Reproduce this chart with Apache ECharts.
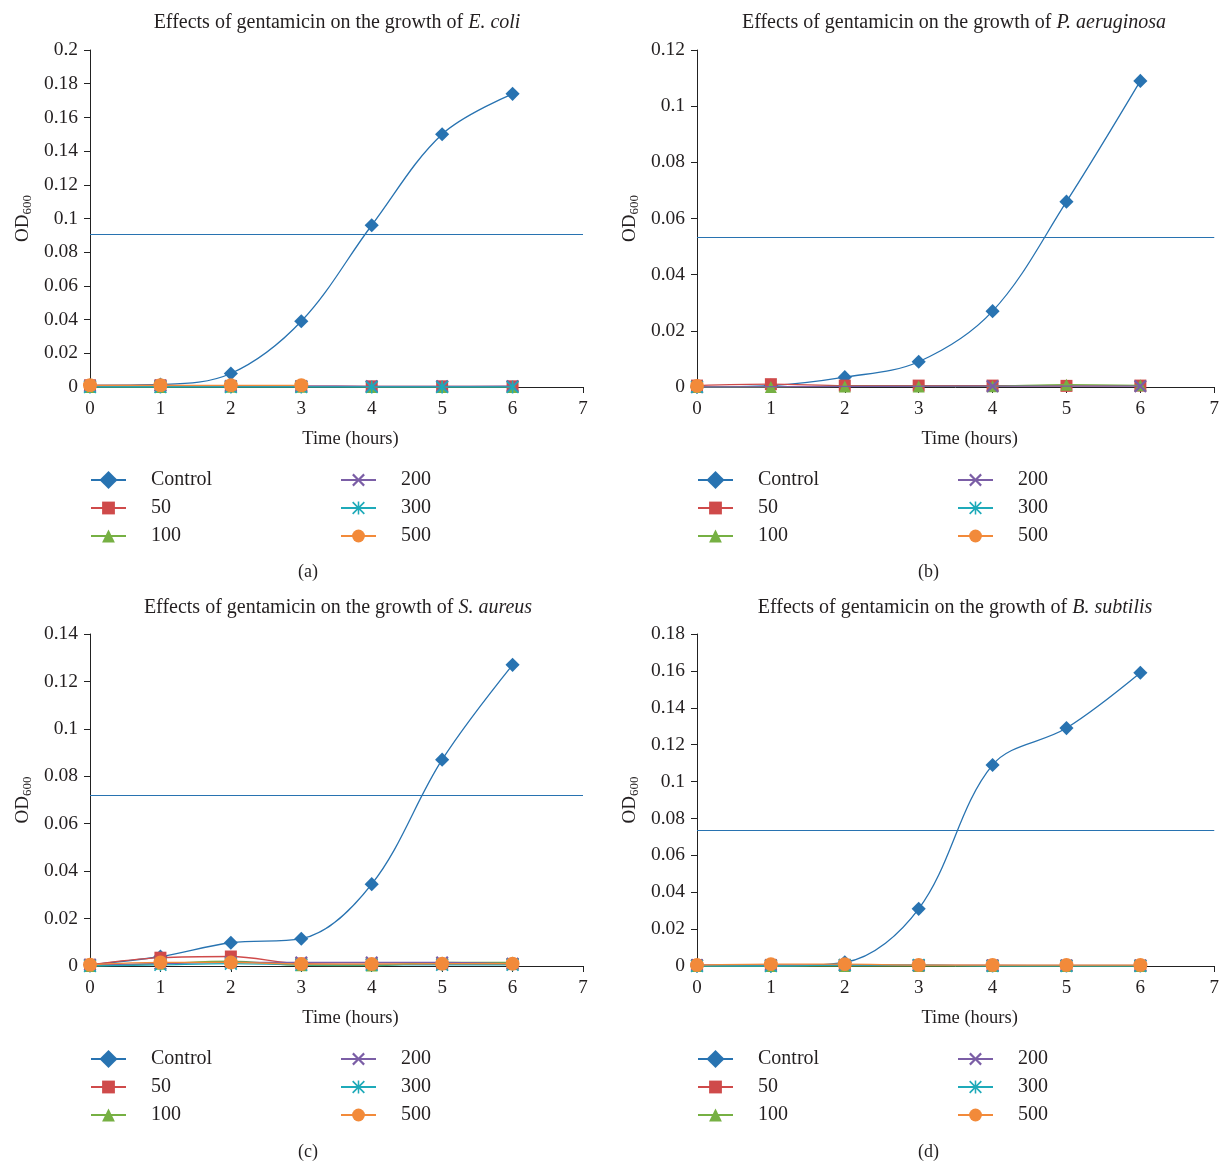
<!DOCTYPE html>
<html><head><meta charset="utf-8">
<script src="https://cdn.jsdelivr.net/npm/echarts@6/dist/echarts.min.js"></script>
<style>html,body{margin:0;padding:0;background:#fff}#c{width:1222px;height:1163px}</style>
</head><body><div id="c"></div>
<script>
// ---- data ----
const hours = [0, 1, 2, 3, 4, 5, 6];
const seriesNames = ['Control', '50', '100', '200', '300', '500'];
const xTicks = [0, 1, 2, 3, 4, 5, 6, 7];

// (a) E. coli
const ecoliControl = [0.001, 0.0015, 0.008, 0.039, 0.096, 0.150, 0.174];
const ecoli50  = [0.001, 0.001, 0.0006, 0.0005, 0.0004, 0.0004, 0.0004];
const ecoli100 = [0.0, 0.0, 0.0001, 0.0001, 0.0, 0.0, 0.0];
const ecoli200 = [0.0006, 0.0008, 0.0006, 0.0005, 0.0004, 0.0004, 0.0005];
const ecoli300 = [0.0, 0.0, 0.0, 0.0, 0.0, 0.0, 0.0];
const ecoli500 = [0.001, 0.001, 0.001, 0.001, null, null, null];
const ecoliThreshold = 0.0905;

// (b) P. aeruginosa
const paerControl = [0.0, 0.0005, 0.0035, 0.009, 0.027, 0.066, 0.109];
const paer50  = [0.0005, 0.001, 0.0005, 0.0005, 0.0005, 0.0004, 0.0005];
const paer100 = [0.0, 0.0, 0.0002, 0.0002, 0.0003, 0.0008, 0.0006];
const paer200 = [0.0, null, null, null, 0.0003, null, 0.0003];
const paer300 = [0.0, null, null, null, null, null, null];
const paer500 = [0.0004, null, null, null, null, null, null];
const paerThreshold = 0.0535;

// (c) S. aureus
const saurControl = [0.0005, 0.004, 0.0098, 0.0115, 0.0345, 0.087, 0.127];
const saur50  = [0.0005, 0.0035, 0.004, 0.001, 0.0008, 0.0008, 0.0008];
const saur100 = [0.0, 0.001, 0.002, 0.0003, 0.0002, 0.0015, 0.0015];
const saur200 = [0.0005, 0.001, 0.0015, 0.0015, 0.0015, 0.0015, 0.001];
const saur300 = [0.0, 0.0005, 0.001, 0.0005, 0.0005, 0.0005, 0.0005];
const saur500 = [0.0005, 0.0015, 0.0015, 0.0008, 0.0008, 0.001, 0.001];
const saurThreshold = 0.0718;

// (d) B. subtilis
const bsubControl = [0.0, 0.0, 0.002, 0.031, 0.109, 0.129, 0.159];
const bsub50  = [0.0005, 0.0005, 0.0005, 0.0003, 0.0003, 0.0002, 0.0002];
const bsub100 = [0.0, 0.0, 0.0, 0.0, 0.0, 0.0, 0.0];
const bsub200 = [0.0005, 0.0005, 0.0005, 0.0004, 0.0003, 0.0003, 0.0003];
const bsub300 = [0.0, 0.0, 0.0005, 0.0005, 0.0, 0.0, 0.0];
const bsub500 = [0.0005, 0.001, 0.001, 0.0005, 0.0005, 0.0005, 0.0005];
const bsubThreshold = 0.0738;

const species = ['E. coli', 'P. aeruginosa', 'S. aureus', 'B. subtilis'];
const captions = ['(a)', '(b)', '(c)', '(d)'];
const yMax = [0.2, 0.12, 0.14, 0.18];

// ---- styling ----
const FONT = '"Liberation Serif", "DejaVu Serif", serif';
const TXT = '#231f20';
const colors = ['#2873b1', '#cf4a4a', '#76b043', '#7b5ea6', '#1eaab9', '#f28a3a'];
const xPath = 'path://M0,1.2L1.2,0L5,3.8L8.8,0L10,1.2L6.2,5L10,8.8L8.8,10L5,6.2L1.2,10L0,8.8L3.8,5Z';
const starPath = 'path://M4.4,0H5.6V10H4.4Z M0,0.9L0.9,0L10,9.1L9.1,10Z M9.1,0L10,0.9L0.9,10L0,9.1Z';
const symbols = ['rect', 'rect', 'triangle', xPath, starPath, 'circle'];
const symRot = [45, 0, 0, 0, 0, 0];
const symSize = [10, 12, 12, 13, 13, 14];

const panels = [
  {vals: [ecoliControl, ecoli50, ecoli100, ecoli200, ecoli300, ecoli500], thr: ecoliThreshold},
  {vals: [paerControl, paer50, paer100, paer200, paer300, paer500], thr: paerThreshold},
  {vals: [saurControl, saur50, saur100, saur200, saur300, saur500], thr: saurThreshold},
  {vals: [bsubControl, bsub50, bsub100, bsub200, bsub300, bsub500], thr: bsubThreshold}
];

const layout = [
  {left: 90, top: 50, width: 493, height: 337, titleX: 332, titleY: 8, legY: 465, capX: 298, capY: 563, legL: 85, legR: 335},
  {left: 697, top: 50, width: 518, height: 337, titleX: 949, titleY: 8, legY: 465, capX: 918, capY: 563, legL: 692, legR: 952},
  {left: 90, top: 634, width: 493, height: 332, titleX: 333, titleY: 593, legY: 1044, capX: 298, capY: 1143, legL: 85, legR: 335},
  {left: 697, top: 634, width: 518, height: 332, titleX: 950, titleY: 593, legY: 1044, capX: 918, capY: 1143, legL: 692, legR: 952}
];

const grid = [], xAxis = [], yAxis = [], series = [], title = [], legend = [], graphic = [];

layout.forEach((L, p) => {
  grid.push({left: L.left, top: L.top, width: L.width, height: L.height, containLabel: false});
  xAxis.push({
    type: 'value', gridIndex: p, min: xTicks[0], max: xTicks[xTicks.length - 1], interval: 1,
    name: 'Time (hours)', nameLocation: 'middle', nameGap: 43,
    nameTextStyle: {fontFamily: FONT, fontSize: 18.5, color: TXT, padding: [0, 0, 0, 28]},
    axisLine: {onZero: false, lineStyle: {color: '#222', width: 1}},
    axisTick: {show: true, inside: false, length: 6, lineStyle: {color: '#222'}},
    axisLabel: {fontFamily: FONT, fontSize: 19, color: TXT, margin: 13},
    splitLine: {show: false}
  });
  yAxis.push({
    type: 'value', gridIndex: p, min: 0, max: yMax[p], interval: 0.02,
    name: 'OD{sub|600}', nameLocation: 'middle', nameGap: 56, nameRotate: 90,
    nameTextStyle: {fontFamily: FONT, fontSize: 19, color: TXT,
      rich: {sub: {fontFamily: FONT, fontSize: 13, color: TXT, verticalAlign: 'bottom', padding: [8, 0, 0, 0]}}},
    axisLine: {show: true, lineStyle: {color: '#222', width: 1}},
    axisTick: {show: true, inside: false, length: 6, lineStyle: {color: '#222'}},
    axisLabel: {fontFamily: FONT, fontSize: 19.5, color: TXT, margin: 12,
      formatter: v => String(Math.round(v * 1000) / 1000)},
    splitLine: {show: false}
  });
  title.push({
    text: 'Effects of gentamicin on the growth of {i|' + species[p] + '}',
    left: L.titleX, top: L.titleY, textAlign: 'center',
    textStyle: {fontFamily: FONT, fontSize: 20, fontWeight: 'normal', color: TXT,
      rich: {i: {fontFamily: FONT, fontSize: 20, fontStyle: 'italic', color: TXT}}}
  });
  const legendCommon = {
    orient: 'vertical', top: L.legY, itemWidth: 35, itemHeight: 16, itemGap: 8,
    selectedMode: false,
    textStyle: {fontFamily: FONT, fontSize: 20, color: TXT, padding: [0, 0, 0, 20]}
  };
  legend.push(Object.assign({}, legendCommon, {left: L.legL, data: seriesNames.slice(0, 3)}));
  legend.push(Object.assign({}, legendCommon, {left: L.legR, data: seriesNames.slice(3)}));
  graphic.push({type: 'text', left: L.capX, top: L.capY,
    style: {text: captions[p], font: '18px ' + FONT, fill: TXT}});

  panels[p].vals.forEach((arr, i) => {
    const data = [];
    hours.forEach((h, k) => { if (arr[k] !== null) data.push([h, arr[k]]); });
    const s = {
      type: 'line', name: seriesNames[i], xAxisIndex: p, yAxisIndex: p,
      data: data, smooth: 0.35,
      symbol: symbols[i], symbolSize: symSize[i], symbolRotate: symRot[i],
      showAllSymbol: true,
      lineStyle: {color: colors[i], width: 1.3},
      itemStyle: {color: colors[i]},
      emphasis: {disabled: true},
      clip: true, z: 2 + i
    };
    if (i === 0) {
      s.markLine = {
        silent: true, symbol: ['none', 'none'], precision: 5,
        label: {show: false},
        lineStyle: {color: colors[0], type: 'solid', width: 1.2},
        data: [{yAxis: panels[p].thr}]
      };
    }
    series.push(s);
  });
});

const chart = echarts.init(document.getElementById('c'), null, {renderer: 'canvas'});
chart.setOption({animation: false, backgroundColor: '#fff', grid, xAxis, yAxis, series, title, legend, graphic});
</script></body></html>
